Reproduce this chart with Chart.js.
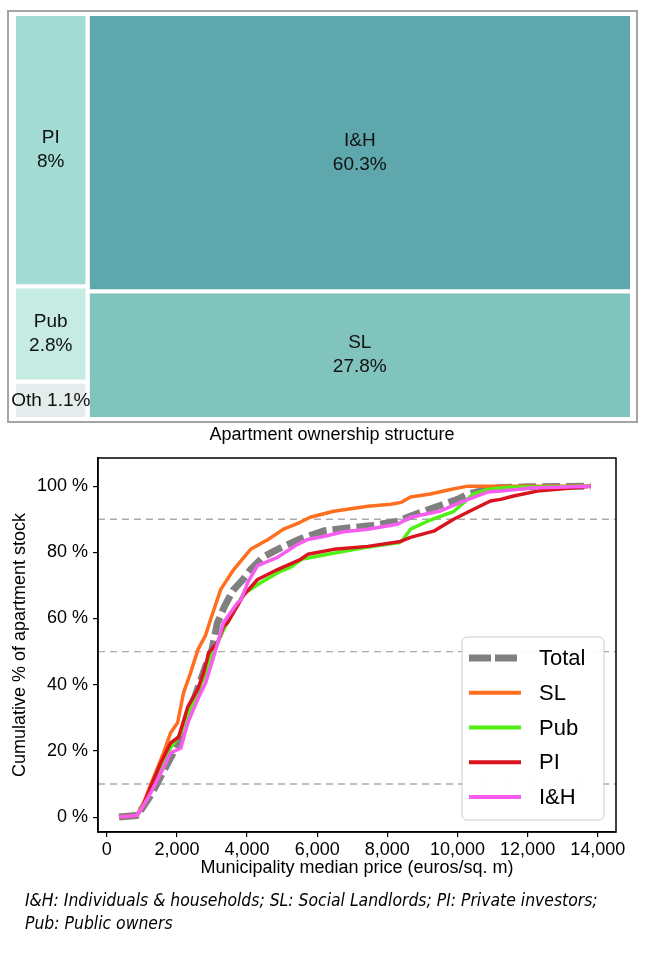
<!DOCTYPE html>
<html>
<head>
<meta charset="utf-8">
<script src="https://cdn.jsdelivr.net/npm/chart.js@4.4.1/dist/chart.umd.min.js"></script>
<style>
  html, body { margin: 0; padding: 0; background: #fff; }
  body { width: 648px; height: 953px; position: relative; overflow: hidden; font-family: "Liberation Sans", Arial, sans-serif; color: #000; }
  #treeFrame { position: absolute; left: 7px; top: 10px; width: 627px; height: 409px; border: 2px solid #a4a4a4; }
  #treeCanvas { position: absolute; left: 0; top: 0; }
  #treeTitle { position: absolute; left: 0; width: 664px; top: 424px; text-align: center; font-size: 18px; }
  #cdfCanvas { position: absolute; left: 0; top: 450px; }
  #note { position: absolute; left: 25px; top: 888px; width: 680px; font-family: "Liberation Sans Narrow", "DejaVu Sans Condensed", sans-serif; font-style: italic; font-size: 18.5px; line-height: 23px; white-space: nowrap; transform: scaleX(0.94); transform-origin: 0 0; }
</style>
</head>
<body>
<div id="treeFrame"></div>
<canvas id="treeCanvas" width="648" height="450"></canvas>
<div id="treeTitle">Apartment ownership structure</div>
<canvas id="cdfCanvas" width="648" height="431"></canvas>
<div id="note">I&amp;H: Individuals &amp; households; SL: Social Landlords; PI: Private investors;<br>Pub: Public owners</div>

<script>
// ownership shares (treemap)
const owners = ['I&H', 'SL', 'PI', 'Pub', 'Oth'];
const ownerShares = [60.3, 27.8, 8, 2.8, 1.1];
const treeColumns = [['PI', 'Pub', 'Oth'], ['I&H', 'SL']];
const ownerColors = ['#5ea7ac', '#80c4bd', '#a4dbd4', '#c6ebe3', '#e4ecec'];

// cumulative curves: municipality median price (euros/sq. m) vs cumulative % of stock
const totalPrice = [350, 850, 1000, 1250, 1500, 1750, 2000, 2200, 2400, 2600, 2800, 3000, 3150, 3350, 3600, 3900, 4100, 4450, 4800, 5050, 5500, 6200, 7000, 7500, 8300, 8650, 9200, 9600, 10000, 10300, 10850, 11200, 12000, 13800];
const totalShare = [0, 0.5, 2.5, 6.5, 11.5, 16.5, 21.5, 27, 33, 39, 45, 50.6, 58.5, 63.5, 68.5, 72, 74.8, 78.5, 80.5, 81.8, 84, 86.5, 87.5, 88, 89.4, 90.9, 93, 94.5, 96, 97.6, 99, 99.5, 99.8, 100];

const slPrice = [350, 850, 1000, 1340, 1620, 1820, 2020, 2190, 2390, 2600, 2820, 2960, 3250, 3620, 4100, 4600, 5040, 5500, 5800, 6470, 7450, 8100, 8400, 8660, 9230, 9800, 10300, 11000, 13800];
const slShare = [0, 0.5, 3, 12.1, 19.4, 25.5, 28.5, 37.6, 43.6, 50.6, 55, 59.7, 68.8, 74.8, 80.9, 83.9, 87, 89, 90.6, 92.4, 93.9, 94.5, 95.1, 96.7, 97.6, 99, 100, 100, 100];

const pubPrice = [350, 850, 1000, 1250, 1550, 1850, 2100, 2350, 2600, 2800, 3000, 3350, 3900, 4400, 4900, 5250, 5550, 6300, 7400, 8350, 8450, 8660, 9150, 9900, 10450, 10850, 11500, 13800];
const pubShare = [0, 0.5, 2.5, 8.5, 15.5, 21.5, 25, 32, 38, 43, 49, 57, 67.5, 70.9, 74, 75.5, 77.9, 79.4, 81.5, 83, 83.9, 87, 89.4, 92.4, 97.6, 99, 99.7, 100];

const piPrice = [350, 850, 1000, 1250, 1540, 1820, 2050, 2310, 2590, 2760, 2910, 3160, 3330, 3450, 3900, 4300, 4870, 5530, 5730, 6470, 7440, 8380, 8660, 9320, 9890, 10460, 10940, 11230, 11600, 12280, 13800];
const piShare = [0, 0.5, 2.5, 9.1, 16.4, 22.4, 24.2, 33.3, 38.5, 43.6, 49.7, 52.7, 57.6, 58.8, 67, 71.8, 74.8, 77.9, 79.4, 80.9, 81.8, 83.3, 84.5, 86.4, 90, 93, 95.5, 96, 97, 98.5, 100];

const ihPrice = [350, 850, 970, 1250, 1540, 1820, 2110, 2310, 2590, 2820, 3050, 3190, 3330, 3730, 3820, 4020, 4300, 4870, 5440, 5730, 6180, 6750, 7440, 8290, 8660, 9520, 10170, 10860, 11230, 12080, 13800];
const ihShare = [0, 0.5, 2.1, 7.3, 13.3, 19.4, 20.8, 28.5, 35.5, 40.6, 48.5, 53.6, 58.8, 64.8, 65.5, 70.9, 76, 78.5, 82.4, 83.9, 84.8, 86.2, 87, 88.5, 90.6, 92.5, 95.5, 98.2, 98.5, 99.4, 100];

const priceTicks = [0, 2000, 4000, 6000, 8000, 10000, 12000, 14000];
const shareTicks = [0, 20, 40, 60, 80, 100];
const refLevels = [10, 50, 90];

const FONT = '"Liberation Sans", Arial, sans-serif';
Chart.defaults.font.family = FONT;
Chart.defaults.color = '#000';

// ---- treemap: slice columns, then dice each column by share ----
function layoutTiles() {
  const total = ownerShares.reduce((a, b) => a + b, 0);
  const tiles = [];
  let x0 = 0;
  treeColumns.forEach(col => {
    const colSum = col.reduce((s, n) => s + ownerShares[owners.indexOf(n)], 0);
    const w = colSum / total * 100;
    let y0 = 0;
    col.forEach(n => {
      const i = owners.indexOf(n);
      const h = ownerShares[i] / colSum * 100;
      tiles.push({ name: n, share: ownerShares[i], color: ownerColors[i], x0: x0, x1: x0 + w, y0: y0, y1: y0 + h });
      y0 += h;
    });
    x0 += w;
  });
  return tiles;
}

const tiles = layoutTiles();

const tileLabels = {
  id: 'tileLabels',
  afterDatasetsDraw(chart) {
    const { ctx, scales } = chart;
    ctx.save();
    ctx.fillStyle = '#111';
    ctx.font = '19px ' + FONT;
    ctx.textAlign = 'center';
    ctx.textBaseline = 'middle';
    tiles.forEach(t => {
      const cx = scales.x.getPixelForValue((t.x0 + t.x1) / 2);
      const cy = scales.y.getPixelForValue((t.y0 + t.y1) / 2);
      const hPx = Math.abs(scales.y.getPixelForValue(t.y1) - scales.y.getPixelForValue(t.y0));
      if (hPx < 50) {
        ctx.fillText(t.name + ' ' + t.share + '%', cx, cy);
      } else {
        ctx.fillText(t.name, cx, cy - 12);
        ctx.fillText(t.share + '%', cx, cy + 12);
      }
    });
    ctx.restore();
  }
};

new Chart(document.getElementById('treeCanvas'), {
  type: 'scatter',
  data: {
    datasets: tiles.map(t => ({
      label: t.name,
      data: [
        { x: t.x0, y: t.y0 }, { x: t.x1, y: t.y0 }, { x: t.x1, y: t.y1 },
        { x: t.x0, y: t.y1 }, { x: t.x0, y: t.y0 }
      ],
      showLine: true,
      fill: 'shape',
      backgroundColor: t.color,
      borderColor: '#ffffff',
      borderWidth: 4,
      borderJoinStyle: 'miter',
      pointRadius: 0,
      tension: 0,
      clip: false
    }))
  },
  options: {
    responsive: false,
    animation: false,
    events: [],
    layout: { padding: { left: 14, right: 16, top: 14, bottom: 31 } },
    plugins: { legend: { display: false }, tooltip: { enabled: false } },
    scales: {
      x: { type: 'linear', min: 0, max: 100, display: false },
      y: { type: 'linear', min: 0, max: 100, reverse: true, display: false }
    }
  },
  plugins: [tileLabels]
});

// ---- cumulative distribution chart ----
const X_MIN = -250, X_MAX = 14520;

function pts(xs, ys) {
  return xs.map((x, i) => ({ x: x, y: ys[i] }));
}

const series = [
  { label: 'Total', xs: totalPrice, ys: totalShare, color: '#808080', width: 7, dash: [18, 6], legendDash: [22, 4] },
  { label: 'SL', xs: slPrice, ys: slShare, color: '#ff6f1f', width: 3.5 },
  { label: 'Pub', xs: pubPrice, ys: pubShare, color: '#4ff012', width: 3.5 },
  { label: 'PI', xs: piPrice, ys: piShare, color: '#d9141f', width: 3.5 },
  { label: 'I&H', xs: ihPrice, ys: ihShare, color: '#f95cf0', width: 3.5 }
];

const refSets = refLevels.map(lvl => ({
  data: [{ x: X_MIN, y: lvl }, { x: X_MAX, y: lvl }],
  showLine: true,
  borderColor: '#ababab',
  borderWidth: 1.4,
  borderDash: [7, 5],
  pointRadius: 0,
  order: 20
}));

const lineSets = series.map((s, i) => ({
  label: s.label,
  data: pts(s.xs, s.ys),
  showLine: true,
  borderColor: s.color,
  borderWidth: s.width,
  borderDash: s.dash || [],
  legendDash: s.legendDash || [],
  borderCapStyle: 'butt',
  borderJoinStyle: 'round',
  pointRadius: 0,
  tension: 0,
  order: series.length - i
}));

const frameAndLegend = {
  id: 'frameAndLegend',
  afterDraw(chart) {
    const { ctx, chartArea } = chart;
    ctx.save();
    ctx.strokeStyle = '#000';
    ctx.lineWidth = 1.5;
    ctx.strokeRect(chartArea.left, chartArea.top, chartArea.right - chartArea.left, chartArea.bottom - chartArea.top);

    const items = chart.data.datasets.filter(d => d.label);
    const rowH = 34.75, boxW = 142, boxH = 183;
    const left = chartArea.right - 12 - boxW;
    const top = chartArea.bottom - 12 - boxH;
    ctx.beginPath();
    ctx.roundRect(left, top, boxW, boxH, 5);
    ctx.fillStyle = 'rgba(255,255,255,0.92)';
    ctx.fill();
    ctx.strokeStyle = '#cccccc';
    ctx.lineWidth = 1;
    ctx.stroke();

    ctx.font = '22px ' + FONT;
    ctx.textBaseline = 'middle';
    ctx.textAlign = 'left';
    items.forEach((d, i) => {
      const cy = top + 21 + i * rowH;
      ctx.beginPath();
      ctx.setLineDash(d.legendDash.length ? d.legendDash : []);
      ctx.strokeStyle = d.borderColor;
      ctx.lineWidth = d.borderWidth > 4 ? 7 : 4;
      ctx.lineCap = 'butt';
      ctx.moveTo(left + 7, cy);
      ctx.lineTo(left + 59, cy);
      ctx.stroke();
      ctx.setLineDash([]);
      ctx.fillStyle = '#000';
      ctx.fillText(d.label, left + 77, cy + 1);
    });
    ctx.restore();
  }
};

new Chart(document.getElementById('cdfCanvas'), {
  type: 'scatter',
  data: { datasets: refSets.concat(lineSets) },
  options: {
    responsive: false,
    animation: false,
    events: [],
    layout: { padding: { left: 5, right: 32, top: 8, bottom: 0 } },
    plugins: { legend: { display: false }, tooltip: { enabled: false } },
    scales: {
      x: {
        type: 'linear',
        min: X_MIN,
        max: X_MAX,
        afterBuildTicks: s => { s.ticks = priceTicks.map(v => ({ value: v })); },
        afterFit: s => { s.height = 49; s.paddingLeft = 0; s.paddingRight = 0; },
        ticks: {
          autoSkip: false,
          maxRotation: 0,
          padding: 2,
          font: { size: 18 },
          callback: v => v.toLocaleString('en-US')
        },
        grid: { drawOnChartArea: false, tickLength: 5, color: '#000', lineWidth: 1.2 },
        border: { display: true, color: '#000', width: 1.5 },
        title: { display: true, text: 'Municipality median price (euros/sq. m)', font: { size: 18 }, padding: { top: 4, bottom: 2 } }
      },
      y: {
        type: 'linear',
        min: -4.5,
        max: 108.5,
        afterBuildTicks: s => { s.ticks = shareTicks.map(v => ({ value: v })); },
        afterFit: s => { s.width = 93; s.paddingTop = 0; s.paddingBottom = 0; },
        ticks: {
          padding: 5,
          font: { size: 18 },
          callback: v => v + ' %'
        },
        grid: { drawOnChartArea: false, tickLength: 5, color: '#000', lineWidth: 1.2 },
        border: { display: true, color: '#000', width: 1.5 },
        title: { display: true, text: 'Cumulative % of apartment stock', font: { size: 18 } }
      }
    }
  },
  plugins: [frameAndLegend]
});
</script>
</body>
</html>
